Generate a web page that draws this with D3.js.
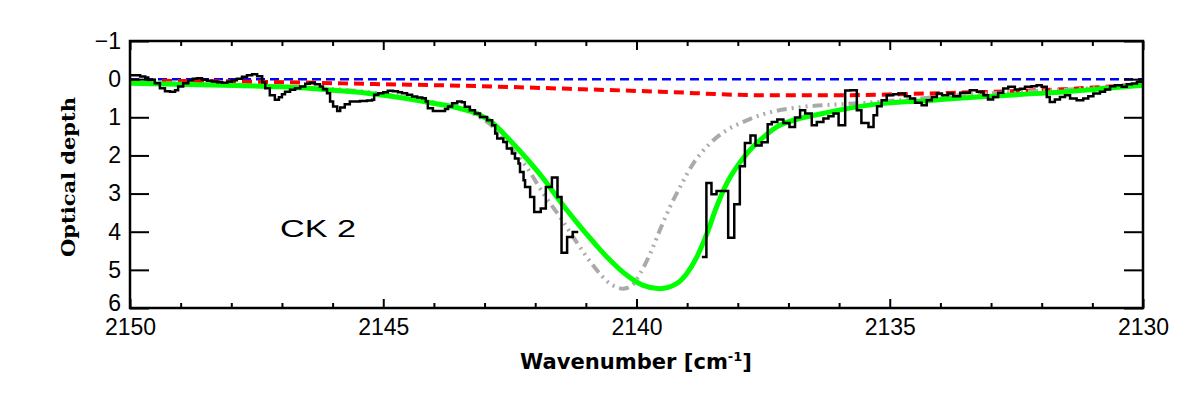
<!DOCTYPE html>
<html>
<head>
<meta charset="utf-8">
<script src="https://cdn.jsdelivr.net/npm/d3@7"></script>
<style>
  html, body { margin: 0; padding: 0; background: #fff; }
  svg { display: block; }
</style>
</head>
<body>
<svg id="chart" width="1181" height="393"></svg>
<script>
// ---------- data ----------
const xMajorTicks = [2150, 2145, 2140, 2135, 2130];
const xMinorTicks = [2149,2148,2147,2146,2144,2143,2142,2141,2139,2138,2137,2136,2134,2133,2132,2131];
const yTicks = [-1, 0, 1, 2, 3, 4, 5, 6];

// observed optical depth (histogram steps), first segment
const obsWn1 = [2150.00,2149.80,2149.70,2149.64,2149.51,2149.41,2149.31,2149.21,2149.11,2149.05,2148.95,2148.85,2148.76,2148.68,2148.58,2148.48,2148.38,2148.28,2148.18,2148.08,2147.99,2147.89,2147.79,2147.69,2147.59,2147.49,2147.39,2147.33,2147.24,2147.14,2147.06,2147.00,2146.94,2146.84,2146.74,2146.64,2146.54,2146.45,2146.35,2146.25,2146.19,2146.11,2146.05,2145.99,2145.91,2145.85,2145.76,2145.66,2145.46,2145.32,2145.22,2145.18,2145.10,2145.00,2144.91,2144.81,2144.71,2144.63,2144.53,2144.43,2144.33,2144.23,2144.16,2144.12,2144.02,2143.78,2143.72,2143.64,2143.54,2143.45,2143.39,2143.29,2143.19,2143.09,2142.95,2142.85,2142.79,2142.75,2142.63,2142.56,2142.46,2142.40,2142.33,2142.30,2142.23,2142.20,2142.10,2142.02,2141.89,2141.79,2141.67,2141.56,2141.48,2141.37,2141.26,2141.15];
const obsTau1 = [-0.10,-0.07,-0.045,0.013,0.105,0.236,0.315,0.328,0.289,0.19,0.105,0.034,-0.008,-0.026,0.013,0.04,0.06,0.079,0.092,0.066,0.026,-0.013,-0.066,-0.105,-0.131,-0.079,0.079,0.236,0.42,0.543,0.472,0.394,0.328,0.276,0.236,0.19,0.118,0.092,0.131,0.19,0.262,0.367,0.585,0.717,0.832,0.743,0.656,0.585,0.57,0.56,0.543,0.412,0.367,0.341,0.307,0.32,0.341,0.367,0.412,0.454,0.478,0.499,0.585,0.761,0.832,0.78,0.717,0.63,0.585,0.604,0.727,0.814,0.90,0.99,1.076,1.207,1.425,1.556,1.646,1.819,1.95,2.08,2.213,2.433,2.651,2.827,3.089,3.483,3.394,2.827,2.58,3.089,4.554,4.139,4.008,4.008];

// observed optical depth, second segment (after saturated gap)
const obsWn2 = [2138.71,2138.62,2138.52,2138.42,2138.19,2138.07,2137.96,2137.86,2137.75,2137.65,2137.53,2137.41,2137.33,2137.22,2137.10,2136.98,2136.87,2136.77,2136.67,2136.54,2136.44,2136.31,2136.21,2136.11,2136.01,2135.88,2135.78,2135.65,2135.56,2135.42,2135.32,2135.25,2135.16,2135.06,2134.93,2134.83,2134.70,2134.60,2134.50,2134.37,2134.27,2134.17,2134.07,2133.97,2133.85,2133.75,2133.61,2133.42,2133.28,2133.15,2133.06,2132.96,2132.86,2132.76,2132.66,2132.53,2132.43,2132.33,2132.20,2132.10,2132.00,2131.90,2131.84,2131.74,2131.64,2131.54,2131.44,2131.31,2131.18,2131.08,2130.98,2130.85,2130.75,2130.65,2130.55,2130.42,2130.32,2130.22,2130.12,2130.00];
const obsTau2 = [4.664,2.722,3.018,2.932,4.155,3.281,2.283,1.672,1.478,1.74,1.654,1.181,1.121,1.058,1.147,1.252,1.005,0.814,0.90,1.207,1.121,1.031,0.971,0.90,1.207,0.30,0.289,0.814,1.147,1.252,0.945,0.709,0.551,0.42,0.394,0.375,0.446,0.507,0.622,0.682,0.551,0.465,0.375,0.42,0.375,0.446,0.36,0.289,0.333,0.42,0.533,0.465,0.36,0.244,0.202,0.27,0.25,0.202,0.184,0.157,0.197,0.465,0.596,0.533,0.465,0.42,0.507,0.551,0.507,0.446,0.375,0.333,0.27,0.184,0.157,0.197,0.131,0.113,0.071,0.071];

// total model fit (green)
const fitWn = [2150.00,2148.62,2147.43,2146.64,2145.99,2145.32,2144.67,2144.02,2143.48,2143.09,2142.83,2142.50,2142.17,2141.84,2141.51,2141.18,2140.85,2140.52,2140.19,2139.87,2139.54,2139.21,2139.01,2138.81,2138.61,2138.42,2138.22,2138.02,2137.82,2137.56,2137.23,2136.77,2136.32,2135.65,2134.99,2134.34,2133.42,2131.88,2130.00];
const fitTau = [0.105,0.144,0.184,0.223,0.289,0.367,0.48,0.63,0.769,0.937,1.163,1.601,2.081,2.606,3.20,3.753,4.27,4.75,5.144,5.407,5.493,5.362,5.10,4.664,4.05,3.352,2.738,2.302,1.95,1.601,1.252,1.031,0.90,0.727,0.622,0.57,0.48,0.36,0.157];

// alternative model (grey dash-dot)
const altWn = [2150.00,2148.62,2147.43,2146.64,2145.46,2144.67,2143.88,2143.29,2142.83,2142.50,2142.17,2141.84,2141.51,2141.18,2140.85,2140.52,2140.26,2140.09,2139.93,2139.73,2139.54,2139.34,2139.14,2138.88,2138.55,2138.22,2137.89,2137.56,2137.23,2136.77,2135.59,2134.80,2133.61,2131.74,2130.00];
const altTau = [0.092,0.131,0.184,0.223,0.315,0.459,0.643,0.866,1.252,1.777,2.302,3.00,3.614,4.278,4.895,5.362,5.493,5.407,5.10,4.575,3.963,3.352,2.827,2.213,1.688,1.339,1.121,0.945,0.827,0.735,0.63,0.551,0.42,0.289,0.171];

// broad component (red dashed)
const broadWn = [2150.00,2147.63,2145.06,2143.09,2141.12,2139.54,2137.56,2135.78,2134.80,2133.61,2132.03,2130.85,2130.00];
const broadTau = [0.04,0.066,0.131,0.184,0.262,0.328,0.42,0.42,0.394,0.354,0.289,0.21,0.131];

// baseline (blue dashed)
const baseWn = [2150, 2130];
const baseTau = [0, 0];

// ---------- layout ----------
const svg = d3.select("#chart");
const L = 130, R = 1143, T = 41, B = 308;
const x = d3.scaleLinear().domain([2150, 2130]).range([L, R]);
const y = d3.scaleLinear().domain([-1, 6]).range([T, B]);

svg.append("defs").append("clipPath").attr("id", "clip")
  .append("rect").attr("x", L).attr("y", T).attr("width", R - L).attr("height", B - T);

const plot = svg.append("g").attr("clip-path", "url(#clip)");

const smooth = d3.line().x(d => x(d[0])).y(d => y(d[1])).curve(d3.curveMonotoneX);
const straight = d3.line().x(d => x(d[0])).y(d => y(d[1]));
const step = d3.line().x(d => x(d[0])).y(d => y(d[1])).curve(d3.curveStepAfter);
const zip = (a, b) => a.map((v, i) => [v, b[i]]);

plot.append("path").attr("d", straight(zip(baseWn, baseTau)))
  .attr("fill", "none").attr("stroke", "#0000ff").attr("stroke-width", 2.5)
  .attr("stroke-dasharray", "9,5");

plot.append("path").attr("d", smooth(zip(broadWn, broadTau)))
  .attr("fill", "none").attr("stroke", "#ff0000").attr("stroke-width", 4)
  .attr("stroke-dasharray", "10,6");

plot.append("path").attr("d", smooth(zip(altWn, altTau)))
  .attr("fill", "none").attr("stroke", "#aaaaaa").attr("stroke-width", 4)
  .attr("stroke-dasharray", "10,5,2,5,2,5,2,5");

plot.append("path").attr("d", smooth(zip(fitWn, fitTau)))
  .attr("fill", "none").attr("stroke", "#00ff00").attr("stroke-width", 5);

[[obsWn1, obsTau1], [obsWn2, obsTau2]].forEach(([w, t]) => {
  plot.append("path").attr("d", step(zip(w, t)))
    .attr("fill", "none").attr("stroke", "#000").attr("stroke-width", 2.5)
    .attr("stroke-linejoin", "miter");
});

// ---------- axes ----------
const fontTick = "'Liberation Sans', Arial, sans-serif";
function styleAxis(g) {
  g.select(".domain").remove();
  g.selectAll(".tick line").attr("stroke", "#000").attr("stroke-width", 2);
  g.selectAll(".tick text").attr("fill", "#000").style("font-family", fontTick).style("font-size", "23px");
}

// bottom major + minor
svg.append("g").attr("transform", `translate(0,${B})`)
  .call(d3.axisBottom(x).tickValues(xMajorTicks).tickSize(-9).tickPadding(11).tickFormat(d3.format("d")))
  .call(styleAxis);
svg.append("g").attr("transform", `translate(0,${B})`)
  .call(d3.axisBottom(x).tickValues(xMinorTicks).tickSize(-5).tickFormat(""))
  .call(styleAxis);
// top major + minor
svg.append("g").attr("transform", `translate(0,${T})`)
  .call(d3.axisTop(x).tickValues(xMajorTicks).tickSize(-9).tickFormat(""))
  .call(styleAxis);
svg.append("g").attr("transform", `translate(0,${T})`)
  .call(d3.axisTop(x).tickValues(xMinorTicks).tickSize(-5).tickFormat(""))
  .call(styleAxis);
// left
const yAxisG = svg.append("g").attr("transform", `translate(${L},0)`)
  .call(d3.axisLeft(y).tickValues(yTicks).tickSize(-19).tickPadding(9).tickFormat(d3.format("d")))
  .call(styleAxis);
// the lowest label sits a little higher, clear of the x labels
yAxisG.selectAll(".tick").filter(d => d === 6).select("text").attr("dy", "0.1em");
// right
svg.append("g").attr("transform", `translate(${R},0)`)
  .call(d3.axisRight(y).tickValues(yTicks).tickSize(-19).tickFormat(""))
  .call(styleAxis);

// frame
svg.append("rect").attr("x", L).attr("y", T).attr("width", R - L).attr("height", B - T)
  .attr("fill", "none").attr("stroke", "#000").attr("stroke-width", 2.5);

// ---------- labels ----------
const xl = svg.append("text").attr("x", 636).attr("y", 369).attr("text-anchor", "middle")
  .style("font-family", "'DejaVu Sans Condensed', 'DejaVu Sans', sans-serif")
  .style("font-weight", "bold").style("font-size", "21px")
  .attr("textLength", 232).attr("lengthAdjust", "spacingAndGlyphs");
xl.append("tspan").text("Wavenumber [cm");
xl.append("tspan").attr("dy", -8).style("font-size", "13px").text("-1");
xl.append("tspan").attr("dy", 8).text("]");

svg.append("text").attr("transform", "translate(75,177) rotate(-90)").attr("text-anchor", "middle")
  .style("font-family", "'DejaVu Serif', serif").style("font-weight", "bold").style("font-size", "19px")
  .attr("textLength", 160).attr("lengthAdjust", "spacingAndGlyphs")
  .text("Optical depth");

svg.append("text").attr("x", 280).attr("y", 237)
  .style("font-family", fontTick).style("font-size", "24px")
  .attr("textLength", 76).attr("lengthAdjust", "spacingAndGlyphs")
  .text("CK 2");
</script>
</body>
</html>
